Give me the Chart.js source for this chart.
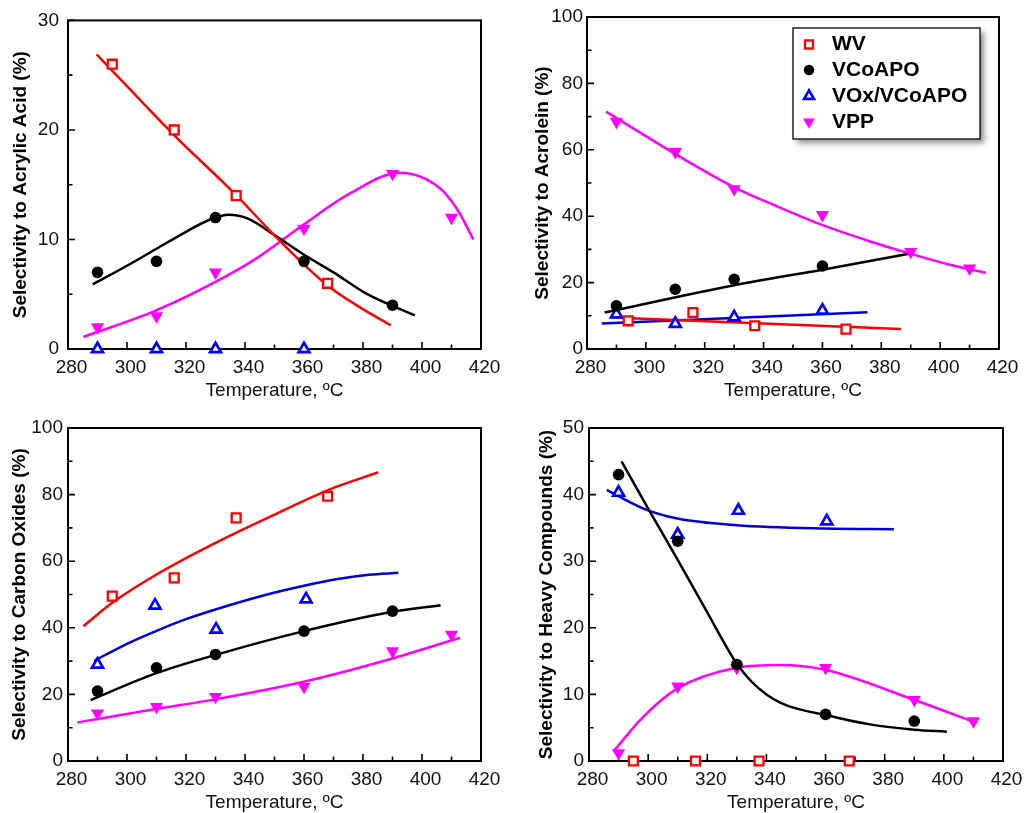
<!DOCTYPE html>
<html>
<head>
<meta charset="utf-8">
<script src="https://cdn.jsdelivr.net/npm/chart.js@4/dist/chart.umd.min.js"></script>
<style>
html,body{margin:0;padding:0;background:#fff;}
body{width:1027px;height:813px;position:relative;overflow:hidden;}
canvas{position:absolute;}
</style>
</head>
<body>
<canvas id="c1" width="510" height="410" style="left:0px;top:0px"></canvas>
<canvas id="c2" width="517" height="410" style="left:510px;top:0px"></canvas>
<canvas id="c3" width="510" height="403" style="left:0px;top:410px"></canvas>
<canvas id="c4" width="517" height="403" style="left:510px;top:410px"></canvas>
<script>
// ---------- shared axis ticks ----------
const xTickLabels = [280, 300, 320, 340, 360, 380, 400, 420];
const xMinorTicks = [290, 310, 330, 350, 370, 390, 410];
const seriesNames = ['WV', 'VCoAPO', 'VOx/VCoAPO', 'VPP'];

// ---------- Panel A: Selectivity to Acrylic Acid ----------
const aaYTicks = [0, 10, 20, 30];
const aaYMinor = [5, 15, 25];
const aaWvT = [295, 316, 337, 368];
const aaWv = [26, 20, 14, 6];
const aaCoT = [290, 310, 330, 360, 390];
const aaCo = [7, 8, 12, 8, 4];
const aaVoxT = [290, 310, 330, 360];
const aaVox = [0, 0, 0, 0];
const aaVppT = [290, 310, 330, 360, 390, 410];
const aaVpp = [2, 3, 7, 11, 16, 12];
const aaWvFitT = [289.7, 315.7, 336.8, 351.9, 368, 379, 389.4];
const aaWvFit = [26.9, 19.6, 14.1, 9.85, 5.8, 3.8, 2.17];
const aaCoFitT = [288.4, 300, 310, 320, 328, 334.5, 341, 350, 360, 370, 381.3, 397.6];
const aaCoFit = [5.9, 7.6, 9.15, 10.7, 11.8, 12.25, 11.9, 10.4, 8.6, 7.0, 5.03, 3.07];
const aaVppFitT = [285.2, 309.7, 329.8, 344, 359.8, 375.6, 392.5, 406, 412.3, 417.4];
const aaVppFit = [1.1, 3.5, 6.1, 8.3, 11.35, 14.2, 16.1, 14.7, 12.6, 10.0];

// ---------- Panel B: Selectivity to Acrolein ----------
const acYTicks = [0, 20, 40, 60, 80, 100];
const acYMinor = [10, 30, 50, 70, 90];
const acWvT = [294, 316, 337, 368];
const acWv = [8.5, 11, 7, 6];
const acCoT = [290, 310, 330, 360];
const acCo = [13, 18, 21, 25];
const acVoxT = [290, 310, 330, 360];
const acVox = [10.5, 7.6, 9.6, 11.6];
const acVppT = [290, 310, 330, 360, 390, 410];
const acVpp = [68.5, 59.4, 48.2, 40.4, 29.3, 24.3];
const acWvFitT = [288.7, 386.7];
const acWvFit = [9.5, 6.0];
const acCoFitT = [286, 330, 360, 389];
const acCoFit = [11, 19.2, 23.9, 28.6];
const acVoxFitT = [285, 375.3];
const acVoxFit = [7.7, 11.05];
const acVppFitT = [286.5, 309.7, 330.1, 344.8, 360.1, 374.2, 389.5, 403.7, 415.6];
const acVppFit = [71.5, 58.9, 48.7, 42.9, 37.3, 33.0, 28.8, 25.3, 23.0];

// ---------- Panel C: Selectivity to Carbon Oxides ----------
const coYTicks = [0, 20, 40, 60, 80, 100];
const coYMinor = [10, 30, 50, 70, 90];
const coWvT = [295, 316, 337, 368];
const coWv = [49.5, 55, 73, 79.5];
const coCoT = [290, 310, 330, 360, 390];
const coCo = [21, 28, 32, 39, 45];
const coVoxT = [290, 309.5, 330.2, 360.7];
const coVox = [29, 46.7, 39.5, 48.6];
const coVppT = [290, 310, 330, 360, 390, 410];
const coVpp = [14.3, 16.3, 19.3, 22.3, 33, 38];
const coWvFitT = [285.2, 295, 310, 330, 350, 370, 385.2];
const coWvFit = [40.5, 47.5, 56, 65.5, 74, 82, 86.7];
const coCoFitT = [287.7, 309.7, 329.8, 360, 390, 406.3];
const coCoFit = [18.3, 26.3, 31.8, 39, 44.8, 46.8];
const coVoxFitT = [288.9, 300, 310, 320, 330, 345, 360, 372, 382, 392];
const coVoxFit = [30.1, 35.2, 39.1, 42.6, 45.5, 49.4, 52.6, 54.7, 55.9, 56.5];
const coVppFitT = [283.2, 309.7, 329.8, 359.8, 390, 412.9];
const coVppFit = [11.6, 15.6, 18.5, 23.8, 30.8, 37.0];

// ---------- Panel D: Selectivity to Heavy Compounds ----------
const hvYTicks = [0, 10, 20, 30, 40, 50];
const hvYMinor = [5, 15, 25, 35, 45];
const hvWvT = [295, 316, 337.5, 368];
const hvWv = [0, 0, 0, 0];
const hvCoT = [290, 310, 330, 360, 390];
const hvCo = [43, 33, 14.5, 7, 6];
const hvVoxT = [290, 310, 330.5, 360.4];
const hvVox = [40.3, 34, 37.6, 36];
const hvVppT = [290, 310, 330, 360, 390, 410];
const hvVpp = [1.2, 11.2, 14, 14, 9.2, 6];
const hvCoFitT = [291, 300, 310, 320, 325, 330, 335, 340, 345, 350, 360, 375, 390, 401];
const hvCoFit = [45, 37.9, 30.2, 22.3, 18.3, 14.6, 11.9, 10.0, 8.7, 7.9, 6.9, 5.5, 4.7, 4.4];
const hvVoxFitT = [286, 298.4, 309.9, 330, 359.8, 383.1];
const hvVoxFit = [40.7, 37.9, 36.4, 35.4, 34.9, 34.8];
const hvVppFitT = [288.2, 298.4, 309.9, 330, 344.6, 359.8, 389.9, 411.1];
const hvVppFit = [1.4, 6.65, 10.9, 14.0, 14.4, 13.7, 9.2, 5.7];

// ---------- styles ----------
const FONT = '"Liberation Sans", Arial, Helvetica, sans-serif';
const markerStyle = {
  'WV': {pointStyle: 'rect', pointRadius: 6.3, pointBorderWidth: 2.3, pointBorderColor: '#ff0000', pointBackgroundColor: '#ffffff', pointRotation: 0},
  'VCoAPO': {pointStyle: 'circle', pointRadius: 5.8, pointBorderWidth: 0, pointBorderColor: '#000000', pointBackgroundColor: '#000000', pointRotation: 0},
  'VOx/VCoAPO': {pointStyle: 'triangle', pointRadius: 6.3, pointBorderWidth: 2.7, pointBorderColor: '#0000ff', pointBackgroundColor: '#ffffff', pointRotation: 0},
  'VPP': {pointStyle: 'triangle', pointRadius: 7.6, pointBorderWidth: 0, pointBorderColor: '#ff00ff', pointBackgroundColor: '#ff00ff', pointRotation: 180}
};
const lineColor = {'WV': '#ff0000', 'VCoAPO': '#000000', 'VOx/VCoAPO': '#0000d8', 'VPP': '#ff00ff'};

function pts(T, V) { return T.map((t, i) => ({x: t, y: V[i]})); }

function markerSet(name, T, V) {
  const s = markerStyle[name];
  return Object.assign({label: name, type: 'scatter', data: pts(T, V), showLine: false, clip: false, order: 0,
    pointHoverRadius: s.pointRadius, pointHitRadius: 0}, s);
}
function fitSet(name, T, V) {
  return {label: name + ' fit', type: 'line', data: pts(T, V), borderColor: lineColor[name], borderWidth: 2.5,
    pointRadius: 0, pointHoverRadius: 0, fill: false, cubicInterpolationMode: 'monotone', order: 1, clip: false};
}

// frame + inward ticks plugin
const framePlugin = {
  id: 'frame',
  beforeDatasetsDraw(chart, args, o) {
    const {ctx, chartArea: a, scales: {x, y}} = chart;
    ctx.save();
    ctx.strokeStyle = '#000';
    ctx.lineWidth = 2;
    ctx.strokeRect(a.left, a.top, a.right - a.left, a.bottom - a.top);
    ctx.lineWidth = 1.6;
    ctx.beginPath();
    o.xMajor.forEach(v => { const p = x.getPixelForValue(v); ctx.moveTo(p, a.bottom); ctx.lineTo(p, a.bottom - 7); });
    o.xMinor.forEach(v => { const p = x.getPixelForValue(v); ctx.moveTo(p, a.bottom); ctx.lineTo(p, a.bottom - 4.5); });
    o.yMajor.forEach(v => { const p = y.getPixelForValue(v); ctx.moveTo(a.left, p); ctx.lineTo(a.left + 7, p); });
    o.yMinor.forEach(v => { const p = y.getPixelForValue(v); ctx.moveTo(a.left, p); ctx.lineTo(a.left + 4.5, p); });
    ctx.stroke();
    ctx.restore();
  }
};

// boxed legend plugin
const boxLegendPlugin = {
  id: 'boxLegend',
  afterDatasetsDraw(chart, args, o) {
    if (!o || !o.show) return;
    const ctx = chart.ctx;
    ctx.save();
    ctx.shadowColor = 'rgba(0,0,0,0.45)';
    ctx.shadowBlur = 6;
    ctx.shadowOffsetX = 4;
    ctx.shadowOffsetY = 4;
    ctx.fillStyle = '#fff';
    ctx.fillRect(o.x, o.y, o.w, o.h);
    ctx.shadowColor = 'transparent';
    ctx.shadowBlur = 0; ctx.shadowOffsetX = 0; ctx.shadowOffsetY = 0;
    ctx.strokeStyle = '#222';
    ctx.lineWidth = 1.5;
    ctx.strokeRect(o.x, o.y, o.w, o.h);
    const sets = chart.data.datasets.filter(d => d.type === 'scatter');
    sets.forEach((d, i) => {
      const cy = o.rows[i];
      const cx = o.markerX;
      const st = {pointStyle: d.pointStyle, radius: d.pointRadius * 0.9, rotation: d.pointRotation, borderWidth: d.pointBorderWidth};
      ctx.fillStyle = d.pointBackgroundColor;
      ctx.strokeStyle = d.pointBorderColor;
      ctx.lineWidth = d.pointBorderWidth;
      if (Chart.helpers && Chart.helpers.drawPoint) {
        Chart.helpers.drawPoint(ctx, st, cx, cy);
      }
      ctx.fillStyle = '#000';
      ctx.font = 'bold 21px ' + FONT;
      ctx.textAlign = 'left';
      ctx.textBaseline = 'middle';
      ctx.fillText(d.label, o.textX, cy);
    });
    ctx.restore();
  }
};

function makeChart(id, cfg) {
  const tickFont = {family: FONT, size: 19};
  new Chart(document.getElementById(id), {
    type: 'scatter',
    data: {datasets: cfg.datasets},
    options: {
      responsive: false, animation: false, events: [],
      layout: {padding: {left: 0, top: cfg.padT, right: cfg.padR, bottom: 0}},
      plugins: {
        legend: {display: false}, tooltip: {enabled: false},
        frame: {xMajor: xTickLabels, xMinor: xMinorTicks, yMajor: cfg.yTicks, yMinor: cfg.yMinor},
        boxLegend: cfg.legend || {show: false}
      },
      scales: {
        x: {
          type: 'linear', min: 280, max: 420,
          afterBuildTicks: s => { s.ticks = xTickLabels.map(v => ({value: v})); },
          afterFit: s => { s.height = cfg.xH; },
          grid: {display: false, drawTicks: false}, border: {display: false},
          ticks: {padding: 7, labelOffset: 3.5, color: '#111', font: tickFont, maxRotation: 0, autoSkip: false},
          title: {display: true, text: 'Temperature, ºC', color: '#111', font: {family: FONT, size: 19, lineHeight: 1}, padding: {top: 0, bottom: cfg.xTitlePad}}
        },
        y: {
          type: 'linear', min: cfg.yTicks[0], max: cfg.yTicks[cfg.yTicks.length - 1],
          afterBuildTicks: s => { s.ticks = cfg.yTicks.map(v => ({value: v})); },
          afterFit: s => { s.width = cfg.yW; },
          grid: {display: false, drawTicks: false}, border: {display: false},
          ticks: {padding: cfg.yTickPad, color: '#111', font: tickFont, autoSkip: false},
          title: {display: true, text: cfg.yTitle, color: '#000', font: {family: FONT, size: 19, weight: 'bold', lineHeight: 1}, padding: {top: cfg.yTitlePad, bottom: 0}}
        }
      }
    },
    plugins: [framePlugin, boxLegendPlugin]
  });
}

makeChart('c1', {
  padT: 17, padR: 29, xH: 61, yW: 68, yTickPad: 9, xTitlePad: 9.5, yTitlePad: 11.5,
  yTicks: aaYTicks, yMinor: aaYMinor, yTitle: 'Selectivity to Acrylic Acid (%)',
  datasets: [
    markerSet('WV', aaWvT, aaWv), markerSet('VCoAPO', aaCoT, aaCo),
    markerSet('VOx/VCoAPO', aaVoxT, aaVox), markerSet('VPP', aaVppT, aaVpp),
    fitSet('WV', aaWvFitT, aaWvFit), fitSet('VCoAPO', aaCoFitT, aaCoFit), fitSet('VPP', aaVppFitT, aaVppFit)
  ]
});

makeChart('c2', {
  padT: 17, padR: 28, xH: 61, yW: 77, yTickPad: 4, xTitlePad: 9.5, yTitlePad: 23.5,
  yTicks: acYTicks, yMinor: acYMinor, yTitle: 'Selectivity to Acrolein (%)',
  legend: {show: true, x: 283, y: 28, w: 187, h: 111, markerX: 299, textX: 322, rows: [44.5, 70, 96, 122]},
  datasets: [
    markerSet('WV', acWvT, acWv), markerSet('VCoAPO', acCoT, acCo),
    markerSet('VOx/VCoAPO', acVoxT, acVox), markerSet('VPP', acVppT, acVpp),
    fitSet('WV', acWvFitT, acWvFit), fitSet('VCoAPO', acCoFitT, acCoFit),
    fitSet('VOx/VCoAPO', acVoxFitT, acVoxFit), fitSet('VPP', acVppFitT, acVppFit)
  ]
});

makeChart('c3', {
  padT: 18, padR: 29, xH: 52, yW: 68, yTickPad: 5, xTitlePad: 1, yTitlePad: 10.5,
  yTicks: coYTicks, yMinor: coYMinor, yTitle: 'Selectivity to Carbon Oxides (%)',
  datasets: [
    markerSet('WV', coWvT, coWv), markerSet('VCoAPO', coCoT, coCo),
    markerSet('VOx/VCoAPO', coVoxT, coVox), markerSet('VPP', coVppT, coVpp),
    fitSet('WV', coWvFitT, coWvFit), fitSet('VOx/VCoAPO', coVoxFitT, coVoxFit),
    fitSet('VCoAPO', coCoFitT, coCoFit), fitSet('VPP', coVppFitT, coVppFit)
  ]
});

makeChart('c4', {
  padT: 18, padR: 24, xH: 52, yW: 79, yTickPad: 5, xTitlePad: 1, yTitlePad: 27.5,
  yTicks: hvYTicks, yMinor: hvYMinor, yTitle: 'Selectivity to Heavy Compounds (%)',
  datasets: [
    markerSet('WV', hvWvT, hvWv), markerSet('VCoAPO', hvCoT, hvCo),
    markerSet('VOx/VCoAPO', hvVoxT, hvVox), markerSet('VPP', hvVppT, hvVpp),
    fitSet('VCoAPO', hvCoFitT, hvCoFit), fitSet('VOx/VCoAPO', hvVoxFitT, hvVoxFit), fitSet('VPP', hvVppFitT, hvVppFit)
  ]
});
</script>
</body>
</html>
